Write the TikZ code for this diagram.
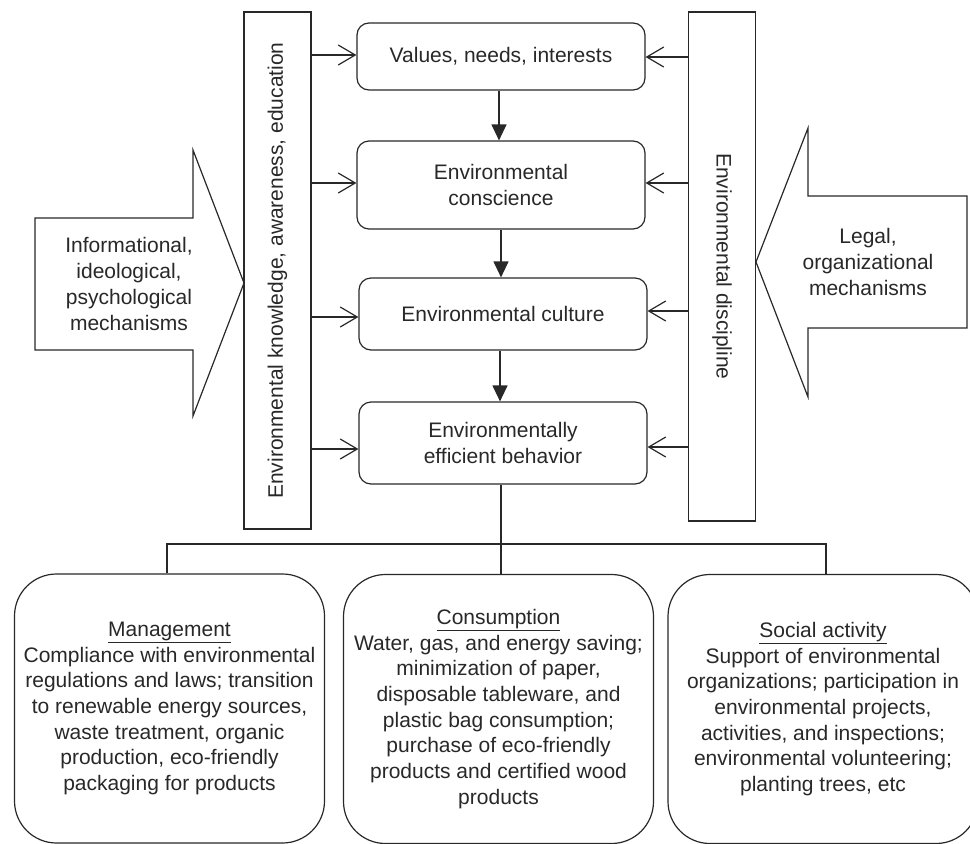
\documentclass[tikz,border=0pt]{standalone}
\usepackage{fontspec}
\setmainfont{Liberation Sans}
\usetikzlibrary{arrows.meta,positioning,calc}
\definecolor{lineGray}{RGB}{40,40,40}
\tikzset{
	cbox/.style={
		draw=lineGray,
		rounded corners=12pt,
		align=center,
		line width=1.2pt,
		minimum width=288pt,
		inner sep=4pt
	},
	vbox/.style={
		draw=lineGray,
		line width=1.2pt,
		minimum width=67pt,
		inner sep=0pt
	},
	bbox/.style={
		draw=lineGray,
		rounded corners=42pt,
		align=center,
		line width=1.2pt,
		minimum width=310pt,
		minimum height=269pt,
		inner sep=4pt
	},
	oarr/.style={-{Straight Barb[length=17pt,width=20pt]}, line width=1.2pt, lineGray},
	darr/.style={-{Triangle[length=16pt,width=15pt]}, line width=1.2pt, lineGray},
	bigarr/.style={draw=lineGray, line width=1.2pt, fill=white}
}

\begin{document}
\begin{tikzpicture}[x=1pt, y=-1pt, font=\fontsize{21}{25.7}\selectfont, text=lineGray]
		\useasboundingbox (0,0) rectangle (970,844);
		% big arrows at the sides
		\draw[bigarr] (35,218) -- (193,218) -- (193,150) -- (244,283) -- (193,416) -- (193,350) -- (35,350) -- cycle;
		\node[align=center] (info) at (129,284) {Informational,\\ideological,\\psychological\\mechanisms};
		\draw[bigarr] (967,196) -- (808,196) -- (808,128) -- (756,262) -- (808,397) -- (808,328) -- (967,328) -- cycle;
		\node[align=center] (legal) at (868,262) {Legal,\\organizational\\mechanisms};
		% vertical boxes
		\node[vbox, minimum height=517pt] (know) at (277.5,270.5) {};
		\node[rotate=90] at (know.center) {Environmental knowledge, awareness, education};
		\node[vbox, minimum height=509pt] (disc) at (722,266.5) {};
		\node[rotate=-90] at (disc.center) {Environmental discipline};
		% middle chain
		\node[cbox, minimum height=67pt] (vals) at (501,56.5) {Values, needs, interests};
		\node[cbox, minimum height=88pt] (consc) at (501,185) {Environmental\\conscience};
		\node[cbox, minimum height=72pt] (cult) at (503,314) {Environmental culture};
		\node[cbox, minimum height=82pt] (behav) at (503,443) {Environmentally\\efficient behavior};
		\draw[darr] (vals.south -| 499,0) -- (consc.north -| 499,0);
		\draw[darr] (consc.south -| 501,0) -- (cult.north -| 501,0);
		\draw[darr] (cult.south -| 500,0) -- (behav.north -| 500,0);
		\foreach \b/\ly/\ry in {vals/55/57, consc/183/183, cult/317/311, behav/449/447}{
			\draw[oarr] (know.east |- 0,\ly) -- (\b.west |- 0,\ly);
			\draw[oarr] (disc.west |- 0,\ry) -- (\b.east |- 0,\ry);
		}
		% bottom groups
		\node[bbox] (mgmt) at (169.5,708.5) {\underline{Management}\\Compliance with environmental\\regulations and laws; transition\\to renewable energy sources,\\waste treatment, organic\\production, eco-friendly\\packaging for products};
		\node[bbox] (cons) at (498.5,709) {\underline{Consumption}\\Water, gas, and energy saving;\\minimization of paper,\\disposable tableware, and\\plastic bag consumption;\\purchase of eco-friendly\\products and certified wood\\products};
		\node[bbox] (soc) at (823,709) {\underline{Social activity}\\Support of environmental\\organizations; participation in\\environmental projects,\\activities, and inspections;\\environmental volunteering;\\planting trees, etc};
		\coordinate (split) at (501,544);
		\draw[line width=1.2pt, lineGray] (behav.south -| split) -- (cons.north -| split);
		\draw[line width=1.2pt, lineGray] (mgmt.north -| 167,0) -- (167,544) -- (826,544) -- (soc.north -| 826,0);
	\end{tikzpicture}
\end{document}
